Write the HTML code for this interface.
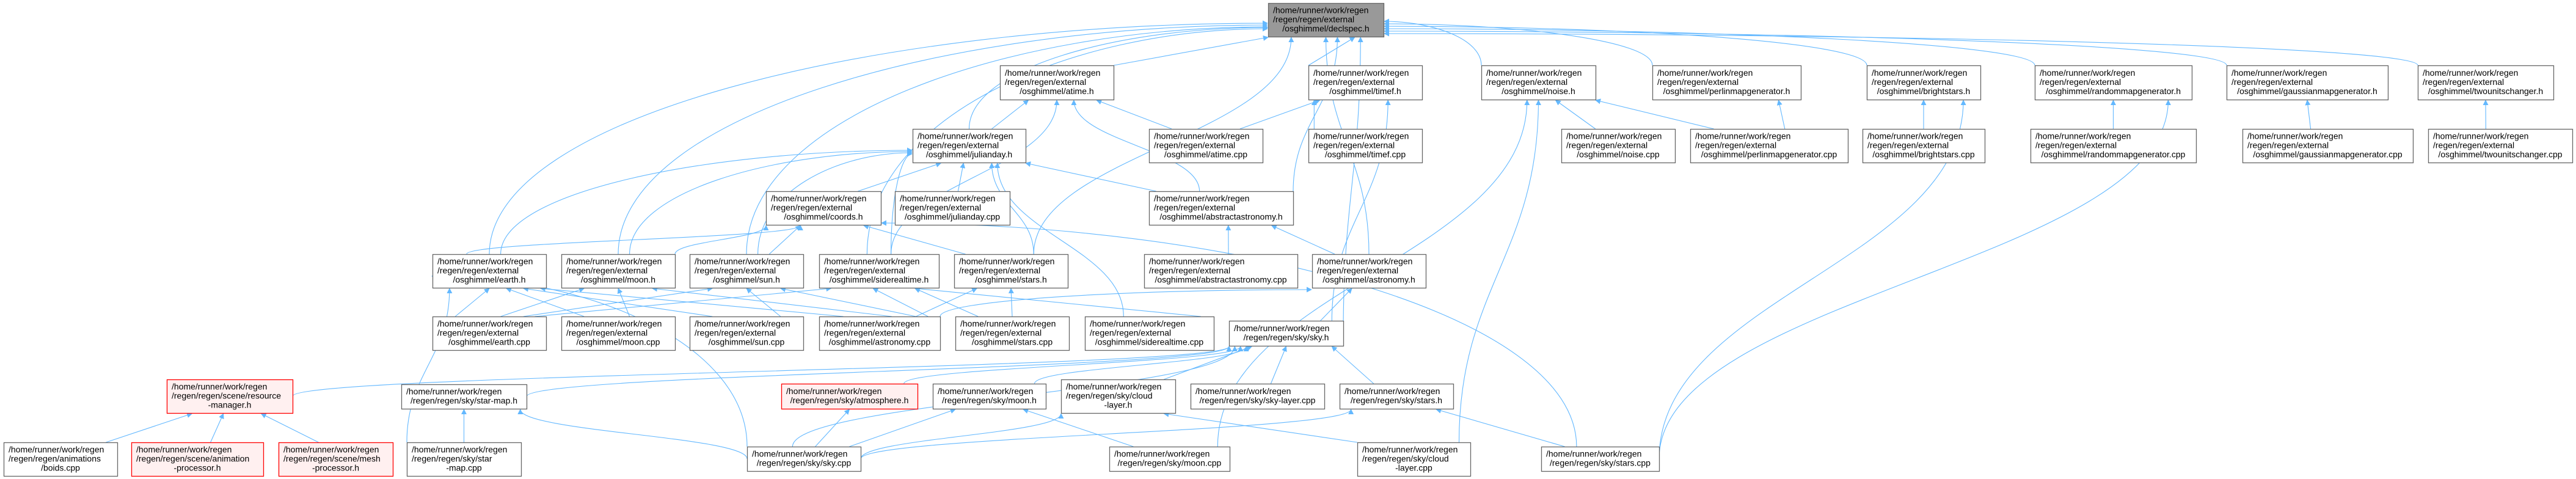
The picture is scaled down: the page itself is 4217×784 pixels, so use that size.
<!DOCTYPE html>
<html><head><meta charset="utf-8"><style>
html,body{margin:0;padding:0;background:#fff;width:4217px;height:784px;overflow:hidden}
svg text{font-family:"Liberation Sans",sans-serif;font-size:14px;fill:#000}
</style></head><body>
<svg id="g" xmlns="http://www.w3.org/2000/svg" width="4217" height="784" viewBox="0 0 4217 784">
<defs><marker id="a" viewBox="0 0 10 10" refX="9" refY="5" markerWidth="9" markerHeight="9" markerUnits="userSpaceOnUse" orient="auto"><path d="M0,0 L10,5 L0,10 z" fill="#63b8ff"/></marker></defs>
<g id="edges" fill="none" stroke="#63b8ff" stroke-width="1.1"></g>
<g id="nodes"></g>
</svg>
<script>
const N={
dec:[2076,5,189,55,["/home/runner/work/regen","/regen/regen/external","/osghimmel/declspec.h"],2],
atimeh:[1637,107,186,56,["/home/runner/work/regen","/regen/regen/external","/osghimmel/atime.h"]],
timefh:[2142,107,186,56,["/home/runner/work/regen","/regen/regen/external","/osghimmel/timef.h"]],
noiseh:[2425,107,187,56,["/home/runner/work/regen","/regen/regen/external","/osghimmel/noise.h"]],
perlh:[2705,107,243,56,["/home/runner/work/regen","/regen/regen/external","/osghimmel/perlinmapgenerator.h"]],
brh:[3056,107,186,56,["/home/runner/work/regen","/regen/regen/external","/osghimmel/brightstars.h"]],
randh:[3331,107,257,56,["/home/runner/work/regen","/regen/regen/external","/osghimmel/randommapgenerator.h"]],
gaush:[3645,107,264,56,["/home/runner/work/regen","/regen/regen/external","/osghimmel/gaussianmapgenerator.h"]],
twoh:[3958,107,222,56,["/home/runner/work/regen","/regen/regen/external","/osghimmel/twounitschanger.h"]],
julh:[1494,211,185,55,["/home/runner/work/regen","/regen/regen/external","/osghimmel/julianday.h"]],
atimec:[1881,211,186,55,["/home/runner/work/regen","/regen/regen/external","/osghimmel/atime.cpp"]],
timefc:[2142,211,186,55,["/home/runner/work/regen","/regen/regen/external","/osghimmel/timef.cpp"]],
noisec:[2556,211,186,55,["/home/runner/work/regen","/regen/regen/external","/osghimmel/noise.cpp"]],
perlc:[2767,211,258,55,["/home/runner/work/regen","/regen/regen/external","/osghimmel/perlinmapgenerator.cpp"]],
brc:[3049,211,200,55,["/home/runner/work/regen","/regen/regen/external","/osghimmel/brightstars.cpp"]],
randc:[3324,211,271,55,["/home/runner/work/regen","/regen/regen/external","/osghimmel/randommapgenerator.cpp"]],
gausc:[3671,211,279,55,["/home/runner/work/regen","/regen/regen/external","/osghimmel/gaussianmapgenerator.cpp"]],
twoc:[3975,211,236,55,["/home/runner/work/regen","/regen/regen/external","/osghimmel/twounitschanger.cpp"]],
coordsh:[1254,313,188,55,["/home/runner/work/regen","/regen/regen/external","/osghimmel/coords.h"]],
julc:[1465,313,188,55,["/home/runner/work/regen","/regen/regen/external","/osghimmel/julianday.cpp"]],
absh:[1881,313,236,55,["/home/runner/work/regen","/regen/regen/external","/osghimmel/abstractastronomy.h"]],
earthh:[708,416,186,55,["/home/runner/work/regen","/regen/regen/external","/osghimmel/earth.h"]],
moonh:[919,416,186,55,["/home/runner/work/regen","/regen/regen/external","/osghimmel/moon.h"]],
sunh:[1129,416,186,55,["/home/runner/work/regen","/regen/regen/external","/osghimmel/sun.h"]],
sidh:[1341,416,196,55,["/home/runner/work/regen","/regen/regen/external","/osghimmel/siderealtime.h"]],
starsh:[1562,416,186,55,["/home/runner/work/regen","/regen/regen/external","/osghimmel/stars.h"]],
absc:[1873,416,251,55,["/home/runner/work/regen","/regen/regen/external","/osghimmel/abstractastronomy.cpp"]],
astrh:[2148,416,186,55,["/home/runner/work/regen","/regen/regen/external","/osghimmel/astronomy.h"]],
earthc:[708,518,186,55,["/home/runner/work/regen","/regen/regen/external","/osghimmel/earth.cpp"]],
moonc:[919,518,186,55,["/home/runner/work/regen","/regen/regen/external","/osghimmel/moon.cpp"]],
sunc:[1129,518,186,55,["/home/runner/work/regen","/regen/regen/external","/osghimmel/sun.cpp"]],
astrc:[1341,518,198,55,["/home/runner/work/regen","/regen/regen/external","/osghimmel/astronomy.cpp"]],
starsc:[1564,518,186,55,["/home/runner/work/regen","/regen/regen/external","/osghimmel/stars.cpp"]],
sidc:[1776,518,211,55,["/home/runner/work/regen","/regen/regen/external","/osghimmel/siderealtime.cpp"]],
skyh:[2012,525,187,41,["/home/runner/work/regen","/regen/regen/sky/sky.h"]],
resh:[273,621,206,55,["/home/runner/work/regen","/regen/regen/scene/resource","-manager.h"],1],
smaph:[657,629,205,40,["/home/runner/work/regen","/regen/regen/sky/star-map.h"]],
atmh:[1279,628,223,41,["/home/runner/work/regen","/regen/regen/sky/atmosphere.h"],1],
smoonh:[1527,628,185,41,["/home/runner/work/regen","/regen/regen/sky/moon.h"]],
cloudh:[1737,621,187,55,["/home/runner/work/regen","/regen/regen/sky/cloud","-layer.h"]],
slayc:[1949,628,219,41,["/home/runner/work/regen","/regen/regen/sky/sky-layer.cpp"]],
sstarsh:[2193,628,186,41,["/home/runner/work/regen","/regen/regen/sky/stars.h"]],
boids:[6,724,186,55,["/home/runner/work/regen","/regen/regen/animations","/boids.cpp"]],
animp:[215,724,216,55,["/home/runner/work/regen","/regen/regen/scene/animation","-processor.h"],1],
meshp:[456,724,187,55,["/home/runner/work/regen","/regen/regen/scene/mesh","-processor.h"],1],
smapc:[666,724,187,55,["/home/runner/work/regen","/regen/regen/sky/star","-map.cpp"]],
skyc:[1223,731,186,40,["/home/runner/work/regen","/regen/regen/sky/sky.cpp"]],
smoonc:[1816,731,197,40,["/home/runner/work/regen","/regen/regen/sky/moon.cpp"]],
cloudc:[2222,724,185,55,["/home/runner/work/regen","/regen/regen/sky/cloud","-layer.cpp"]],
sstarsc:[2523,731,193,40,["/home/runner/work/regen","/regen/regen/sky/stars.cpp"]]
};
const NS="http://www.w3.org/2000/svg";
const eg=document.getElementById('edges'),ng=document.getElementById('nodes');
function el(t,a,p){const e=document.createElementNS(NS,t);for(const k in a)e.setAttribute(k,a[k]);p.appendChild(e);return e;}
for(const k in N){const [x,y,w,h,L,s]=N[k];
 const fill=s==2?'#999999':s==1?'#fff0f0':'#ffffff', st=s==1?'#ff0000':'#666666';
 el('rect',{x:x+.5,y:y+.5,width:w,height:h,fill:fill,stroke:st,'stroke-width':1.3},ng);
 const n=L.length, top=y+h/2-(n*15)/2+11.5;
 L.forEach((t,i)=>{const last=i==n-1&&n>1;
  const tt=el('text',last?{x:x+w/2,y:top+i*15,'text-anchor':'middle'}:{x:x+8,y:top+i*15},ng);tt.textContent=t;});
}
function edge(c,p,o){o=o||{};const C=N[c],P=N[p];
 let x1=C[0]+C[2]*(o.cs??0.5),y1=C[1];
 let x2=P[0]+P[2]*(o.ps??0.5),y2=P[1]+P[3]+1;
 if(o.side=='l'){x2=P[0]-1;y2=P[1]+(o.py??P[3]/2);}
 if(o.side=='r'){x2=P[0]+P[2]+1;y2=P[1]+(o.py??P[3]/2);}
 if(o.from=='r'){x1=C[0]+C[2];y1=C[1]+C[3]/2;}
 if(o.from=='l'){x1=C[0];y1=C[1]+C[3]/2;}
 let d;
 if(o.side){d=`M${x1},${y1} C${x1},${y1-(y1-y2)*0.6} ${x2-(x2-x1)*0.5},${y2} ${x2},${y2}`;}
 else if(o.straight){d=`M${x1},${y1} L${x2},${y2}`;}
 else{const dy=(y1-y2);d=`M${x1},${y1} C${x1},${y1-dy*0.45} ${x2},${y2+dy*0.45} ${x2},${y2}`;}
 el('path',{d:d,'marker-end':'url(#a)'},eg);}
[['earthh',.5],['moonh',.5],['sunh',.5],['sidh',.4]].forEach(([c,s],i)=>edge(c,'dec',{side:'l',py:33+i*3,cs:s}));
edge('julh','dec',{side:'l',py:40});
edge('atimeh','dec',{straight:true,cs:1,ps:0});
edge('starsh','dec',{ps:.2,cs:.7});
edge('astrh','dec',{ps:.5});
edge('absh','dec',{ps:.6,cs:1});
edge('skyh','dec',{ps:.8,from:'r'});
edge('timefh','dec',{straight:true,cs:0,ps:.75});
['noiseh','perlh','brh','randh','gaush','twoh'].forEach((c,i)=>edge(c,'dec',{side:'r',py:30+i*4,cs:0}));
edge('julh','atimeh',{straight:true,cs:.7,ps:.25});
edge('atimec','atimeh',{straight:true,cs:.2,ps:.85});
edge('absh','atimeh',{cs:.35,ps:.65});
edge('sidh','atimeh',{ps:.5,cs:.6});
edge('atimec','timefh',{straight:true,cs:.8,ps:.1});
edge('timefc','timefh',{straight:true,cs:0.05,ps:.05});
edge('skyh','timefh',{ps:.7,cs:.9});
edge('coordsh','julh',{straight:true,cs:.8,ps:.25});
edge('julc','julh',{straight:true,cs:.55,ps:.45});
edge('absh','julh',{straight:true,cs:.05,ps:1});
['earthh','moonh','sunh','sidh'].forEach((c,i)=>edge(c,'julh',{side:'l',py:35+i*2,cs:.6}));
edge('starsh','julh',{ps:.7,cs:.7});
edge('sidc','julh',{ps:.75,cs:.3});
edge('earthh','coordsh',{ps:.3,cs:.3});
edge('moonh','coordsh',{ps:.0,cs:1});
edge('sunh','coordsh',{straight:true,cs:.7,ps:.3});
edge('starsh','coordsh',{straight:true,cs:.1,ps:.85});
edge('sstarsc','coordsh',{side:'r',py:52,cs:.3});
edge('absc','absh',{straight:true,cs:.55,ps:.55});
edge('astrh','absh',{straight:true,cs:.2,ps:.85});
edge('skyh','astrh',{straight:true,cs:.8,ps:.35});
edge('astrc','astrh',{side:'l',py:58,cs:1});
['earthc','moonc','sunc','astrc'].forEach((c,i)=>edge(c,'earthh',{straight:true,cs:.2,ps:.5+i*.15}));
edge('smapc','earthh',{ps:.15,cs:0});
edge('skyc','earthh',{side:'l',py:36,cs:0});
['earthc','moonc','astrc'].forEach((c,i)=>edge(c,'moonh',{straight:true,cs:.6,ps:.2+i*.3}));
['earthc','sunc','astrc'].forEach((c,i)=>edge(c,'sunh',{straight:true,cs:.8,ps:.2+i*.3}));
['earthc','astrc','sidc'].forEach((c,i)=>edge(c,'sidh',{straight:true,cs:.9,ps:.1+i*.35}));
edge('starsc','sidh',{straight:true,cs:.2,ps:.8});
edge('starsc','starsh',{straight:true,cs:.5,ps:.5});
edge('astrc','starsh',{straight:true,cs:.8,ps:.2});
['resh','smaph'].forEach((c,i)=>edge(c,'skyh',{from:'r',ps:0}));
edge('atmh','skyh',{cs:.9,ps:.1});
edge('smoonh','skyh',{cs:.9,ps:.15});
edge('cloudh','skyh',{straight:true,cs:.9,ps:.2});
edge('slayc','skyh',{straight:true,cs:.6,ps:.5});
edge('sstarsh','skyh',{straight:true,cs:.3,ps:.9});
edge('skyc','skyh',{cs:.4,ps:.05});
edge('boids','resh',{straight:true,cs:.9,ps:.2});
edge('animp','resh',{straight:true,cs:.6,ps:.45});
edge('meshp','resh',{straight:true,cs:.35,ps:.75});
edge('smapc','smaph',{straight:true,cs:.5,ps:.5});
edge('skyc','smaph',{from:'l',ps:.95});
edge('skyc','atmh',{straight:true,cs:.6,ps:.5});
edge('skyc','smoonh',{straight:true,cs:.9,ps:.2});
edge('smoonc','smoonh',{straight:true,cs:.2,ps:.8});
edge('skyc','cloudh',{from:'r',ps:0});
edge('cloudc','cloudh',{straight:true,cs:0,ps:.9});
edge('skyc','sstarsh',{from:'r',ps:.1});
edge('sstarsc','sstarsh',{straight:true,cs:.2,ps:.85});
edge('noisec','noiseh',{straight:true,cs:.3,ps:.65});
edge('perlc','noiseh',{straight:true,cs:.15,ps:1});
edge('cloudc','noiseh',{cs:.9,ps:.5});
edge('smoonc','noiseh',{cs:.9,ps:.4});
edge('perlc','perlh',{straight:true,cs:.6,ps:.85});
edge('brc','brh',{straight:true,cs:.5,ps:.5});
edge('sstarsc','brh',{from:'r',ps:.85});
edge('randc','randh',{straight:true,cs:.5,ps:.5});
edge('sstarsc','randh',{from:'r',ps:.85});
edge('gausc','gaush',{straight:true,cs:.4,ps:.5});
edge('twoc','twoh',{straight:true,cs:.4,ps:.5});
</script>
</body></html>
